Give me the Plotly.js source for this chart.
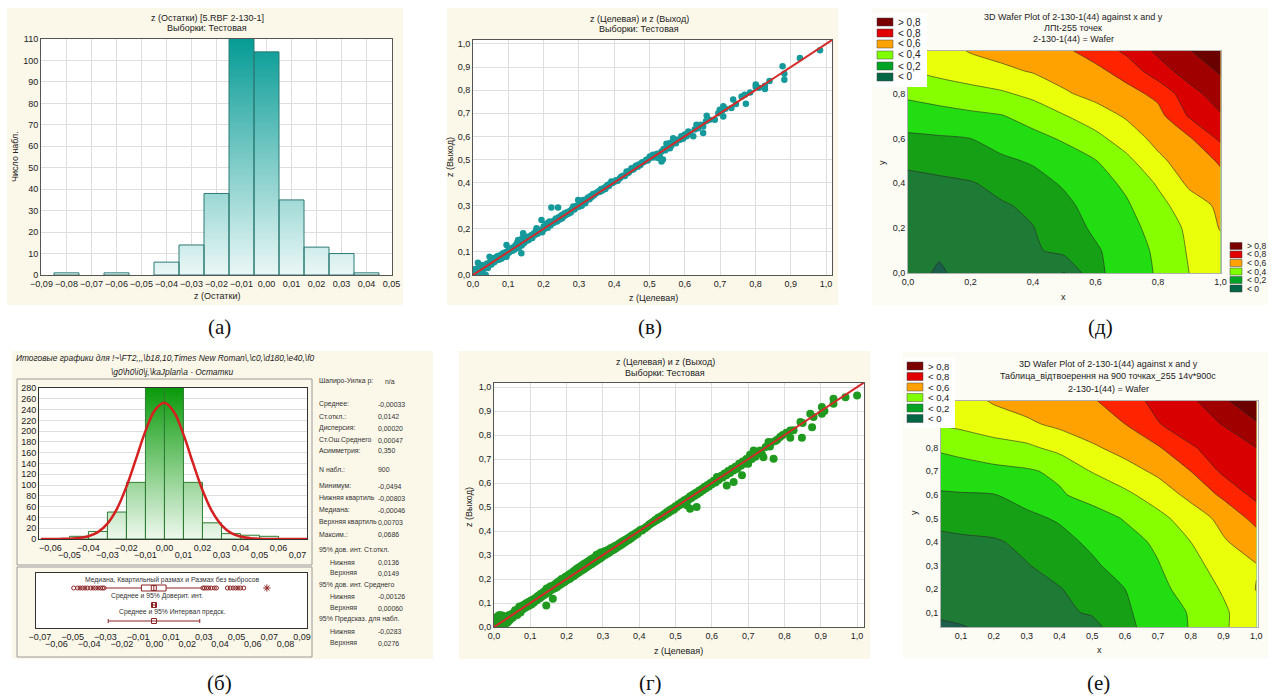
<!DOCTYPE html>
<html><head><meta charset="utf-8">
<script src="https://cdn.plot.ly/plotly-3.0.1.min.js"></script>
<style>html,body{margin:0;padding:0;background:#fff;}#chart{width:1272px;height:700px;}</style>
</head><body><div id="chart"></div>
<script>
const W = 1272, H = 700;
const SANS = 'Arial, "Liberation Sans", sans-serif';
const SERIF = '"Liberation Serif", "DejaVu Serif", serif';

// ---------- (а) residual histogram ----------
const residCenters = [-0.08, -0.06, -0.04, -0.03, -0.02, -0.01, 0.00, 0.01, 0.02, 0.03, 0.04];
const residCounts  = [1, 1, 6, 14, 38, 116, 104, 35, 13, 10, 1];
const residWidth = 0.01;
const residTicks = [-0.09,-0.08,-0.07,-0.06,-0.05,-0.04,-0.03,-0.02,-0.01,0,0.01,0.02,0.03,0.04,0.05];

// ---------- (б) summary histogram + normal fit ----------
const sumCenters = [-0.045,-0.035,-0.025,-0.015,-0.005,0.005,0.015,0.025,0.035,0.045,0.055];
const sumCounts  = [5, 14, 50, 105, 287, 282, 105, 30, 10, 7, 5];
const sumWidth = 0.01;
const normX = [-0.065,-0.06,-0.055,-0.05,-0.045,-0.04,-0.035,-0.03,-0.025,-0.02,-0.015,-0.01,-0.005,0,0.005,0.01,0.015,0.02,0.025,0.03,0.035,0.04,0.045,0.05,0.055,0.06,0.065,0.07,0.075];
const normY = [0,0,0.2,0.6,1.8,5.2,12.8,28.6,55.9,97,148,200,239,252.7,235.6,194,141,91,51.5,25.9,11.4,4.5,1.6,0.5,0.1,0,0,0,0];
const sumTicksEven = [-0.06,-0.04,-0.02,0,0.02,0.04,0.06];
const sumTicksOdd  = [-0.05,-0.03,-0.01,0.01,0.03,0.05,0.07];

// box-plot statistics
const boxQ1 = -0.00803, boxMedian = -0.00046, boxQ3 = 0.00703;
const boxWhiskers = [-0.0300, 0.0288];
const outliersLow  = [-0.0494,-0.047,-0.0455,-0.044,-0.0425,-0.041,-0.039,-0.0375,-0.036,-0.0345,-0.033,-0.0318,-0.0308];
const outliersHigh = [0.0295,0.0305,0.0318,0.033,0.0345,0.0365,0.0378,0.0445,0.0462,0.048,0.0495,0.051,0.0525,0.0545];
const extremes = [0.0686];
const meanVal = -0.00033;
const ciMean = [-0.00126, 0.00060];
const predInt = [-0.0283, 0.0276];
const boxTicksOdd  = [-0.07,-0.05,-0.03,-0.01,0.01,0.03,0.05,0.07,0.09];
const boxTicksEven = [-0.06,-0.04,-0.02,0,0.02,0.04,0.06,0.08];
const boxRowTexts = ['Медиана, Квартильный размах и Размах без выбросов','Среднее и 95% Доверит. инт.','Среднее и 95% Интервал предск.'];

const statLabels = ['Шапиро-Уилка р:','Среднее:','Ст.откл.:','Дисперсия:','Ст.Ош.Среднего','Асимметрия:','N набл.:','Минимум:','Нижняя квартиль','Медиана:','Верхняя квартиль','Максим.:','95% дов. инт. Ст.откл.','Нижняя','Верхняя','95% дов. инт. Среднего','Нижняя','Верхняя','95% Предсказ. для набл.','Нижняя','Верхняя'];
const statValues = ['n/a','-0,00033','0,0142','0,00020','0,00047','0,350','900','-0,0494','-0,00803','-0,00046','0,00703','0,0686','','0,0136','0,0149','','-0,00126','0,00060','','-0,0283','0,0276'];

// ---------- (в) target vs output, RBF test sample ----------
const pointsV = [
[0.005,0.025],[0.009,0.007],[0.012,0.018],[0.014,0.053],[0.014,0.029],[0.018,0.012],[0.020,0.035],[0.024,0.014],[0.026,0.040],[0.028,0.043],[0.030,0.025],[0.033,0.038],[0.036,0.000],[0.038,0.036],[0.040,0.050],[0.042,0.030],[0.045,0.042],[0.047,0.051],[0.047,0.079],[0.050,0.060],[0.052,0.045],[0.055,0.068],[0.057,0.072],[0.060,0.055],[0.062,0.075],[0.065,0.063],[0.068,0.080],[0.071,0.082],[0.073,0.066],[0.075,0.074],[0.078,0.085],[0.080,0.070],[0.083,0.088],[0.085,0.094],[0.088,0.078],[0.090,0.085],[0.093,0.100],[0.095,0.130],[0.095,0.079],[0.098,0.092],[0.100,0.105],[0.103,0.098],[0.106,0.112],[0.109,0.116],[0.112,0.105],[0.115,0.120],[0.118,0.110],[0.120,0.128],[0.123,0.123],[0.125,0.140],[0.128,0.152],[0.130,0.118],[0.132,0.135],[0.135,0.145],[0.137,0.094],[0.138,0.128],[0.140,0.160],[0.142,0.145],[0.142,0.181],[0.145,0.138],[0.148,0.155],
[0.152,0.148],[0.155,0.165],[0.158,0.152],[0.161,0.166],[0.165,0.172],[0.168,0.160],[0.172,0.180],[0.175,0.173],[0.178,0.190],[0.180,0.202],[0.183,0.178],[0.186,0.188],[0.190,0.195],[0.194,0.238],[0.196,0.185],[0.198,0.195],[0.200,0.210],[0.203,0.200],[0.206,0.222],[0.208,0.217],[0.212,0.205],[0.215,0.228],[0.217,0.231],[0.220,0.215],[0.222,0.292],[0.225,0.232],[0.228,0.225],[0.232,0.238],[0.235,0.245],[0.238,0.232],[0.241,0.292],[0.243,0.250],[0.246,0.240],[0.250,0.258],[0.253,0.246],[0.255,0.262],[0.258,0.255],[0.260,0.267],[0.263,0.260],[0.266,0.272],[0.270,0.265],[0.274,0.277],[0.277,0.270],[0.280,0.285],[0.284,0.296],[0.287,0.283],[0.290,0.290],[0.294,0.300],[0.298,0.325],[0.300,0.295],
[0.302,0.303],[0.306,0.312],[0.308,0.300],[0.312,0.325],[0.315,0.318],[0.318,0.310],[0.320,0.322],[0.323,0.330],[0.326,0.335],[0.330,0.328],[0.333,0.342],[0.336,0.338],[0.340,0.350],[0.343,0.345],[0.346,0.352],[0.350,0.356],[0.354,0.358],[0.357,0.364],[0.360,0.360],[0.363,0.372],[0.366,0.366],[0.369,0.373],[0.372,0.378],[0.375,0.372],[0.378,0.383],[0.381,0.390],[0.385,0.385],[0.388,0.395],[0.392,0.405],[0.395,0.398],[0.400,0.403],[0.405,0.410],[0.410,0.408],[0.416,0.419],[0.420,0.425],[0.425,0.430],[0.430,0.428],[0.435,0.448],[0.438,0.440],[0.442,0.445],[0.445,0.452],[0.449,0.462],[0.452,0.455],[0.456,0.460],[0.460,0.470],[0.463,0.474],[0.467,0.468],[0.470,0.478],[0.474,0.476],[0.477,0.484],[0.480,0.488],[0.485,0.490],[0.491,0.499],[0.495,0.495],[0.500,0.505],
[0.501,0.513],[0.505,0.510],[0.510,0.520],[0.513,0.508],[0.518,0.520],[0.522,0.525],[0.525,0.506],[0.529,0.513],[0.534,0.535],[0.534,0.491],[0.538,0.500],[0.540,0.545],[0.545,0.540],[0.548,0.568],[0.550,0.555],[0.553,0.550],[0.558,0.571],[0.558,0.549],[0.562,0.560],[0.567,0.592],[0.570,0.575],[0.575,0.570],[0.580,0.585],[0.586,0.585],[0.590,0.600],[0.595,0.590],[0.600,0.608],[0.605,0.600],[0.610,0.621],[0.615,0.610],[0.624,0.600],[0.628,0.630],[0.633,0.650],[0.638,0.635],[0.645,0.650],[0.652,0.643],[0.652,0.614],[0.660,0.665],[0.662,0.689],[0.670,0.672],[0.685,0.672],[0.695,0.700],[0.699,0.715],[0.705,0.710],[0.709,0.730],[0.709,0.686],[0.715,0.720],[0.732,0.723],[0.737,0.759],[0.745,0.740],[0.761,0.773],[0.770,0.780],[0.773,0.741],[0.785,0.790],[0.801,0.824],[0.801,0.814],[0.810,0.810],[0.827,0.819],[0.827,0.805],[0.840,0.840],[0.877,0.903],[0.882,0.871],[0.882,0.845],[0.926,0.939],[0.983,0.973]
];

// ---------- (г) target vs output, 900-point table ----------
const pointsG = [
[0.000,0.005],[0.003,0.012],[0.005,0.030],[0.006,0.000],[0.008,0.020],[0.010,0.045],[0.010,0.008],[0.012,0.035],[0.014,0.015],[0.015,0.050],[0.017,0.025],[0.018,0.040],[0.020,0.010],[0.021,0.030],[0.023,0.048],[0.025,0.020],[0.026,0.035],[0.028,0.005],[0.030,0.040],[0.031,0.025],[0.033,0.015],[0.035,0.045],[0.036,0.030],[0.038,0.020],[0.040,0.038],[0.042,0.050],[0.043,0.028],[0.045,0.042],[0.047,0.035],[0.050,0.055],[0.050,0.045],[0.052,0.040],[0.055,0.060],[0.056,0.048],[0.058,0.070],[0.060,0.055],[0.062,0.065],[0.064,0.050],[0.066,0.075],[0.068,0.062],[0.070,0.085],[0.071,0.070],[0.073,0.060],[0.075,0.080],[0.077,0.072],[0.079,0.090],[0.080,0.075],[0.082,0.082],[0.085,0.095],[0.086,0.080],[0.088,0.088],[0.090,0.100],[0.092,0.085],[0.094,0.095],[0.096,0.105],[0.098,0.090],[0.100,0.100],
[0.102,0.110],[0.104,0.095],[0.106,0.108],[0.108,0.115],[0.110,0.102],[0.112,0.118],[0.114,0.110],[0.116,0.122],[0.118,0.112],[0.120,0.128],[0.122,0.118],[0.124,0.130],[0.126,0.120],[0.128,0.138],[0.130,0.125],[0.132,0.140],[0.134,0.130],[0.136,0.145],[0.138,0.133],[0.140,0.150],[0.142,0.138],[0.144,0.090],[0.145,0.160],[0.146,0.142],[0.148,0.155],[0.150,0.145],[0.152,0.165],[0.154,0.150],[0.156,0.170],[0.158,0.155],[0.160,0.168],[0.162,0.118],[0.163,0.158],[0.165,0.175],[0.167,0.162],[0.170,0.180],[0.172,0.165],[0.174,0.185],[0.176,0.170],[0.178,0.190],[0.180,0.175],[0.182,0.193],[0.184,0.178],[0.186,0.200],[0.188,0.182],[0.190,0.198],[0.192,0.186],[0.194,0.205],[0.196,0.190],[0.198,0.210],[0.200,0.195],
[0.202,0.212],[0.204,0.198],[0.206,0.218],[0.208,0.200],[0.210,0.222],[0.212,0.205],[0.214,0.225],[0.216,0.210],[0.218,0.230],[0.220,0.213],[0.222,0.235],[0.224,0.218],[0.226,0.240],[0.228,0.222],[0.230,0.245],[0.232,0.226],[0.234,0.248],[0.236,0.230],[0.238,0.252],[0.240,0.234],[0.242,0.256],[0.244,0.238],[0.246,0.260],[0.248,0.242],[0.250,0.265],[0.252,0.246],[0.254,0.268],[0.256,0.250],[0.258,0.272],[0.260,0.254],[0.262,0.276],[0.264,0.258],[0.266,0.280],[0.268,0.262],[0.270,0.284],[0.272,0.266],[0.274,0.288],[0.276,0.270],[0.278,0.290],[0.280,0.274],[0.282,0.300],[0.284,0.278],[0.286,0.302],[0.288,0.282],[0.290,0.305],[0.292,0.286],[0.294,0.310],[0.296,0.290],[0.298,0.308],[0.300,0.295],
[0.303,0.315],[0.306,0.300],[0.309,0.318],[0.312,0.305],[0.315,0.322],[0.318,0.310],[0.321,0.328],[0.324,0.318],[0.327,0.332],[0.330,0.322],[0.333,0.338],[0.336,0.328],[0.339,0.342],[0.342,0.335],[0.345,0.348],[0.348,0.340],[0.351,0.354],[0.354,0.346],[0.357,0.360],[0.360,0.352],[0.363,0.365],[0.366,0.358],[0.369,0.370],[0.372,0.364],[0.375,0.376],[0.378,0.370],[0.381,0.382],[0.384,0.377],[0.387,0.388],[0.390,0.383],[0.393,0.394],[0.396,0.390],[0.400,0.400],
[0.404,0.405],[0.408,0.402],[0.412,0.410],[0.416,0.412],[0.420,0.418],[0.424,0.421],[0.428,0.428],[0.432,0.430],[0.436,0.437],[0.440,0.438],[0.444,0.446],[0.448,0.445],[0.452,0.455],[0.456,0.452],[0.460,0.462],[0.464,0.460],[0.468,0.470],[0.472,0.468],[0.476,0.479],[0.480,0.475],[0.484,0.488],[0.488,0.484],[0.492,0.495],[0.496,0.490],[0.500,0.503],
[0.504,0.500],[0.508,0.512],[0.512,0.508],[0.516,0.520],[0.520,0.515],[0.524,0.528],[0.528,0.522],[0.531,0.507],[0.532,0.535],[0.536,0.530],[0.540,0.493],[0.540,0.545],[0.544,0.538],[0.548,0.552],[0.552,0.546],[0.556,0.560],[0.558,0.500],[0.560,0.553],[0.564,0.568],[0.568,0.562],[0.572,0.575],[0.576,0.570],[0.580,0.585],[0.584,0.578],[0.588,0.592],[0.592,0.586],[0.596,0.600],[0.600,0.595],
[0.605,0.610],[0.610,0.602],[0.614,0.625],[0.618,0.612],[0.622,0.620],[0.626,0.630],[0.630,0.623],[0.635,0.640],[0.641,0.590],[0.640,0.632],[0.645,0.650],[0.650,0.642],[0.655,0.660],[0.660,0.604],[0.660,0.652],[0.665,0.668],[0.670,0.660],[0.675,0.680],[0.680,0.672],[0.683,0.632],[0.685,0.690],[0.690,0.680],[0.695,0.700],[0.700,0.680],
[0.705,0.718],[0.710,0.700],[0.715,0.736],[0.720,0.710],[0.725,0.730],[0.733,0.736],[0.738,0.720],[0.742,0.708],[0.748,0.750],[0.756,0.771],[0.760,0.752],[0.765,0.770],[0.770,0.701],[0.775,0.775],[0.780,0.780],[0.788,0.792],[0.795,0.800],
[0.805,0.810],[0.816,0.819],[0.816,0.789],[0.825,0.820],[0.844,0.854],[0.848,0.789],[0.850,0.850],[0.871,0.889],[0.876,0.833],[0.880,0.875],[0.903,0.917],[0.903,0.889],[0.910,0.900],[0.935,0.951],[0.935,0.930],[0.968,0.958],[1.000,0.965]
];
const idealLine = [0, 1.02];
const unitTicks = [0,0.1,0.2,0.3,0.4,0.5,0.6,0.7,0.8,0.9,1.0];

// ---------- (д), (е) wafer contour grids (rows: y = 0 .. 1) ----------
const waferX = [0,0.1,0.2,0.3,0.4,0.5,0.6,0.7,0.8,0.9,1.0];
const waferY = [0,0.1,0.2,0.3,0.4,0.5,0.6,0.7,0.8,0.9,1.0];
const waferZ_LPt = [
[0.030,-0.010,0.030,0.060,0.090,-0.005,0.180,0.244,0.310,0.400,0.460],
[0.030,0.010,0.020,0.050,0.085,0.129,0.188,0.250,0.318,0.410,0.470],
[0.035,0.040,0.050,0.065,0.097,0.156,0.216,0.268,0.336,0.420,0.505],
[0.045,0.060,0.075,0.090,0.118,0.179,0.235,0.289,0.367,0.455,0.517],
[0.060,0.075,0.092,0.131,0.169,0.210,0.262,0.318,0.411,0.517,0.572],
[0.128,0.147,0.166,0.185,0.209,0.252,0.296,0.375,0.478,0.550,0.610],
[0.183,0.190,0.200,0.236,0.271,0.312,0.371,0.450,0.529,0.588,0.720],
[0.248,0.264,0.280,0.295,0.339,0.394,0.453,0.511,0.567,0.710,0.790],
[0.320,0.342,0.364,0.387,0.425,0.488,0.530,0.567,0.625,0.764,0.850],
[0.390,0.426,0.453,0.479,0.507,0.541,0.576,0.638,0.756,0.843,0.910],
[0.400,0.465,0.512,0.538,0.564,0.590,0.646,0.730,0.826,0.900,0.970]
];
const waferZ_Table = [
[-0.040,-0.020,0.005,0.040,0.070,0.020,0.170,0.240,0.305,0.390,0.460],
[0.010,0.020,0.035,0.050,0.075,0.114,0.186,0.247,0.308,0.385,0.470],
[0.040,0.050,0.062,0.075,0.095,0.144,0.200,0.271,0.343,0.410,0.503],
[0.050,0.065,0.080,0.095,0.135,0.185,0.239,0.294,0.369,0.440,0.495],
[0.070,0.079,0.088,0.124,0.171,0.218,0.264,0.317,0.400,0.490,0.553],
[0.124,0.144,0.157,0.180,0.210,0.257,0.307,0.373,0.446,0.530,0.630],
[0.187,0.193,0.197,0.233,0.289,0.335,0.380,0.444,0.527,0.620,0.730],
[0.247,0.260,0.275,0.289,0.318,0.405,0.460,0.520,0.600,0.720,0.770],
[0.305,0.330,0.360,0.380,0.430,0.485,0.537,0.590,0.690,0.745,0.800],
[0.390,0.422,0.453,0.484,0.520,0.560,0.600,0.695,0.750,0.805,0.890],
[0.400,0.462,0.510,0.537,0.563,0.590,0.657,0.728,0.780,0.886,0.970]
];
const waferTicksD = [0,0.2,0.4,0.6,0.8,1.0];
const waferYTicksD = [0,0.2,0.4,0.6,0.8];
const waferTicksE = [0.1,0.2,0.3,0.4,0.5,0.6,0.7,0.8,0.9,1.0];
const waferYTicksE = [0.1,0.2,0.3,0.4,0.5,0.6,0.7,0.8];
const legendLabels = ['&gt; 0,8','&lt; 0,8','&lt; 0,6','&lt; 0,4','&lt; 0,2','&lt; 0'];
const legendColors = ['#7a0000','#e00000','#ffa200','#80ff00','#00a424','#006644'];
const bandColors = ['#1b5e4a','#1e7b36','#16a016','#22dd11','#86ff00','#eaff0a','#ffa200','#ff2400','#d80000','#a00000','#6a0000'];

// ================= helpers =================
const X = px => px / W;
const Y = py => 1 - py / H;
const TF = {family: SANS, size: 9, color: '#222'};
function ax(o) {
  return Object.assign({showgrid:false, zeroline:false, showline:true, linecolor:'#555', linewidth:1, mirror:true,
    ticks:'', tickangle:0, tickfont:TF, fixedrange:true, automargin:false}, o);
}
function barPolys(centers, counts, width) {
  const xs = [], ys = [];
  centers.forEach((c, i) => { const l = c - width/2, r = c + width/2;
    xs.push(l, l, r, r, l, null); ys.push(0, counts[i], counts[i], 0, 0, null); });
  return {xs, ys};
}
function txt(text, px, py, o) {
  const base = {text, x:X(px), y:Y(py), xref:'paper', yref:'paper', showarrow:false,
    xanchor:'center', yanchor:'middle', font:{family:SANS, size:9, color:'#222'}};
  return Object.assign(base, o || {});
}
function rect(x0, y0, x1, y1, fill, line, layer, lw) {
  return {type:'rect', xref:'paper', yref:'paper', x0:X(x0), x1:X(x1), y0:Y(y1), y1:Y(y0),
    fillcolor:fill, line: line ? {color:line, width: lw || 1} : {width:0}, layer: layer || 'below'};
}

// ================= traces =================
const traces = [];
const pa = barPolys(residCenters, residCounts, residWidth);
traces.push({type:'scatter', mode:'lines', x:pa.xs, y:pa.ys, xaxis:'x', yaxis:'y', fill:'toself',
  fillgradient:{type:'vertical', start:0, stop:110, colorscale:[[0,'#eaf7f6'],[1,'#069b95']]},
  line:{color:'#2b7a75', width:1}, hoverinfo:'skip'});

const pb = barPolys(sumCenters, sumCounts, sumWidth);
traces.push({type:'scatter', mode:'lines', x:pb.xs, y:pb.ys, xaxis:'x2', yaxis:'y2', fill:'toself',
  fillgradient:{type:'vertical', start:0, stop:280, colorscale:[[0,'#eef8ee'],[1,'#0a9a0a']]},
  line:{color:'#2e7d32', width:1}, hoverinfo:'skip'});
traces.push({type:'scatter', mode:'lines', x:normX, y:normY, xaxis:'x2', yaxis:'y2',
  line:{color:'#d42020', width:2.5, shape:'spline'}, hoverinfo:'skip'});
traces.push({type:'scatter', mode:'markers', x:[null], y:[null], xaxis:'x3', yaxis:'y2', hoverinfo:'skip'});

const BOXC = '#8b2323';
const ROW1 = 40, ROW2 = 23, ROW3 = 7;
traces.push({type:'box', orientation:'h', xaxis:'x4', yaxis:'y4', y:[ROW1], q1:[boxQ1], median:[boxMedian], q3:[boxQ3],
  lowerfence:[boxWhiskers[0]], upperfence:[boxWhiskers[1]], width:6, whiskerwidth:0, boxpoints:false,
  line:{color:BOXC, width:1}, fillcolor:'#ffffff', hoverinfo:'skip'});
traces.push({type:'scatter', mode:'markers', x:[boxMedian], y:[ROW1], xaxis:'x4', yaxis:'y4',
  marker:{symbol:'square-open', size:5, color:BOXC}, hoverinfo:'skip'});
const outl = outliersLow.concat(outliersHigh);
traces.push({type:'scatter', mode:'markers', x:outl, y:outl.map(() => ROW1), xaxis:'x4', yaxis:'y4',
  marker:{symbol:'circle-open', size:4, color:BOXC, line:{width:1}}, hoverinfo:'skip'});
traces.push({type:'scatter', mode:'markers', x:extremes, y:extremes.map(() => ROW1), xaxis:'x4', yaxis:'y4',
  marker:{symbol:'asterisk-open', size:6, color:BOXC, line:{width:1, color:BOXC}}, hoverinfo:'skip'});
traces.push({type:'scatter', mode:'markers', x:[meanVal], y:[ROW2], xaxis:'x4', yaxis:'y4',
  error_x:{type:'data', symmetric:false, array:[ciMean[1]-meanVal], arrayminus:[meanVal-ciMean[0]], color:BOXC, thickness:1, width:2},
  marker:{symbol:'square-open', size:5, color:BOXC}, hoverinfo:'skip'});
traces.push({type:'scatter', mode:'markers', x:[meanVal], y:[ROW3], xaxis:'x4', yaxis:'y4',
  error_x:{type:'data', symmetric:false, array:[predInt[1]-meanVal], arrayminus:[meanVal-predInt[0]], color:BOXC, thickness:1, width:2},
  marker:{symbol:'square-open', size:5, color:BOXC}, hoverinfo:'skip'});
traces.push({type:'scatter', mode:'markers', x:[null], y:[null], xaxis:'x5', yaxis:'y4', hoverinfo:'skip'});

traces.push({type:'scatter', mode:'markers', x:pointsV.map(p => p[0]), y:pointsV.map(p => p[1]), xaxis:'x6', yaxis:'y6',
  marker:{color:'#16999a', size:6.5}, hoverinfo:'skip'});
traces.push({type:'scatter', mode:'lines', x:idealLine, y:idealLine, xaxis:'x6', yaxis:'y6',
  line:{color:'#d42a2a', width:2}, hoverinfo:'skip'});
traces.push({type:'scatter', mode:'markers', x:pointsG.map(p => p[0]), y:pointsG.map(p => p[1]), xaxis:'x7', yaxis:'y7',
  marker:{color:'#1f9a1f', size:8}, hoverinfo:'skip'});
traces.push({type:'scatter', mode:'lines', x:idealLine, y:idealLine, xaxis:'x7', yaxis:'y7',
  line:{color:'#d42a2a', width:2}, hoverinfo:'skip'});

const cscale = bandColors.map((c, i) => [i / (bandColors.length - 1), c]);
function contourTrace(z, xa, ya) {
  return {type:'contour', x:waferX, y:waferY, z:z, xaxis:xa, yaxis:ya, autocontour:false,
    contours:{start:0, end:0.9, size:0.1, coloring:'fill', showlines:true},
    line:{color:'rgba(40,40,40,0.85)', width:0.7, smoothing:0.6},
    colorscale:cscale, showscale:false, hoverinfo:'skip'};
}
traces.push(contourTrace(waferZ_LPt, 'x8', 'y8'));
traces.push(contourTrace(waferZ_Table, 'x9', 'y9'));

// ================= layout =================
const GRID = '#dedede';
const layout = {
  width:W, height:H, margin:{l:0, r:0, t:0, b:0, pad:0},
  paper_bgcolor:'#ffffff', plot_bgcolor:'rgba(0,0,0,0)', showlegend:false, separators:', ',
  font:{family:SANS, size:9, color:'#222'},
  xaxis: ax({domain:[X(41), X(392)], range:[-0.0902, 0.0502], anchor:'y', tickvals:residTicks, tickformat:'.2f', showgrid:true, gridcolor:GRID}),
  yaxis: ax({domain:[Y(275), Y(39)], range:[0, 110], anchor:'x', dtick:10, showgrid:true, gridcolor:GRID}),
  xaxis2: ax({domain:[X(39), X(307)], range:[-0.066, 0.075], anchor:'y2', tickvals:sumTicksEven, tickformat:'.2f', linecolor:'#333'}),
  yaxis2: ax({domain:[Y(539), Y(388)], range:[0, 280], anchor:'x2', dtick:20, showgrid:true, gridcolor:GRID, linecolor:'#333'}),
  xaxis3: ax({overlaying:'x2', matches:'x2', anchor:'y2', tickvals:sumTicksOdd, tickformat:'.2f', showline:false, mirror:false, ticklabelstandoff:9}),
  xaxis4: ax({domain:[X(36), X(307)], range:[-0.0724, 0.0931], anchor:'y4', tickvals:boxTicksOdd, tickformat:'.2f', linecolor:'#333'}),
  yaxis4: ax({domain:[Y(628), Y(573)], range:[0, 55], anchor:'x4', showticklabels:false, linecolor:'#333'}),
  xaxis5: ax({overlaying:'x4', matches:'x4', anchor:'y4', tickvals:boxTicksEven, tickformat:'.2f', showline:false, mirror:false, ticklabelstandoff:9}),
  xaxis6: ax({domain:[X(473), X(832)], range:[0, 1.017], anchor:'y6', tickvals:unitTicks, tickformat:'.1f', showgrid:true, gridcolor:GRID}),
  yaxis6: ax({domain:[Y(275), Y(40)], range:[0, 1.017], anchor:'x6', tickvals:unitTicks, tickformat:'.1f', showgrid:true, gridcolor:GRID}),
  xaxis7: ax({domain:[X(494), X(864)], range:[0, 1.019], anchor:'y7', tickvals:unitTicks, tickformat:'.1f', showgrid:true, gridcolor:GRID}),
  yaxis7: ax({domain:[Y(627), Y(383)], range:[0, 1.017], anchor:'x7', tickvals:unitTicks, tickformat:'.1f', showgrid:true, gridcolor:GRID}),
  xaxis8: ax({domain:[X(908), X(1221)], range:[0, 1.002], anchor:'y8', tickvals:waferTicksD, tickformat:'.1f', linecolor:'#b0b0b0'}),
  yaxis8: ax({domain:[Y(273), Y(51)], range:[0, 0.99], anchor:'x8', tickvals:waferYTicksD, tickformat:'.1f', linecolor:'#b0b0b0'}),
  xaxis9: ax({domain:[X(941), X(1258)], range:[0.039, 1.005], anchor:'y9', tickvals:waferTicksE, tickformat:'.1f', linecolor:'#b0b0b0'}),
  yaxis9: ax({domain:[Y(627), Y(401)], range:[0.039, 0.998], anchor:'x9', tickvals:waferYTicksE, tickformat:'.1f', linecolor:'#b0b0b0'}),
};

// ---------- shapes ----------
const CREAM = '#fbf7e9', PALE = '#fcfbf4';
const shapes = [
  rect(7, 8, 403, 305, CREAM), rect(12, 351, 433, 659, CREAM), rect(447, 8, 838, 305, CREAM),
  rect(459, 351, 870, 659, CREAM), rect(872, 8, 1268, 305, PALE), rect(903, 352, 1268, 658, PALE),
  rect(17, 379, 312, 565, 'rgba(0,0,0,0)', '#9a9a9a'), rect(17, 567, 312, 657, 'rgba(0,0,0,0)', '#9a9a9a'),
  rect(41, 39, 392, 275, '#ffffff'), rect(39, 388, 307, 539, '#ffffff'), rect(36, 573, 307, 628, '#ffffff'),
  rect(473, 40, 832, 275, '#ffffff'), rect(494, 383, 864, 627, '#ffffff'),
  rect(873, 13, 927, 87, '#ffffff', null, 'above'), rect(905, 358, 955, 428, '#ffffff', null, 'above')
];
const legD1 = [22, 33, 44, 55, 66, 77], legD2 = [246, 254.5, 263, 271.5, 280, 288.5], legE = [366, 376.5, 387, 397.5, 408, 418.5];
legendColors.forEach((c, i) => {
  shapes.push(rect(877, legD1[i]-4, 893, legD1[i]+4, c, '#444', 'above', 0.5));
  shapes.push(rect(1230, legD2[i]-3.5, 1242, legD2[i]+3.5, c, '#444', 'above', 0.5));
  shapes.push(rect(907, legE[i]-4, 923, legE[i]+4, c, '#444', 'above', 0.5));
});
layout.shapes = shapes;

// ---------- annotations ----------
const ann = [];
// (а)
ann.push(txt('z (Остатки) [5.RBF 2-130-1]', 207, 18));
ann.push(txt('Выборки: Тестовая', 207, 28.5));
ann.push(txt('z (Остатки)', 217, 296));
ann.push(txt('Число набл.', 15, 157, {textangle:-90}));
// (б)
ann.push(txt('<i>Итоговые графики для !~\\FT2,,,\\b18,10,Times New Roman\\,\\c0,\\d180,\\e40,\\f0</i>', 165, 358, {font:{family:SANS, size:8.4, color:'#222'}}));
ann.push(txt('<i>\\g0\\h0\\i0\\j,\\kaJplan\\a - Остатки</i>', 172, 372, {font:{family:SANS, size:8.4, color:'#222'}}));
const boxTextPos = [[172, 580], [157, 596], [172, 612]];
boxRowTexts.forEach((t, i) => ann.push(txt(t, boxTextPos[i][0], boxTextPos[i][1], {font:{family:SANS, size:6.8, color:'#333'}})));
const statRowsY = [381, 404, 416, 428, 440, 451, 469, 486, 498, 510, 522, 534, 550, 562, 573, 585, 596, 608, 619, 631, 643];
const statIndent = [0,0,0,0,0,0,0,0,0,0,0,0,0,1,1,0,1,1,0,1,1];
const STF = {family:SANS, size:6.9, color:'#333'};
statLabels.forEach((t, i) => {
  ann.push(txt(t, statIndent[i] ? 328 : 317, statRowsY[i], {xanchor:'left', font:STF}));
  if (statValues[i]) ann.push(txt(statValues[i], i === 0 ? 383 : 376, statRowsY[i], {xanchor:'left', font:STF}));
});
// (в)
ann.push(txt('z (Целевая) и z (Выход)', 639, 19));
ann.push(txt('Выборки: Тестовая', 639, 29));
ann.push(txt('z (Целевая)', 653, 298));
ann.push(txt('z (Выход)', 450, 157, {textangle:-90}));
// (г)
ann.push(txt('z (Целевая) и z (Выход)', 665, 362));
ann.push(txt('Выборки: Тестовая', 665, 372.5));
ann.push(txt('z (Целевая)', 678, 651));
ann.push(txt('z (Выход)', 469, 507, {textangle:-90}));
// (д)
ann.push(txt('3D Wafer Plot of 2-130-1(44) against x and y', 1073, 16.5));
ann.push(txt('ЛПt-255 точек', 1073, 28));
ann.push(txt('2-130-1(44) = Wafer', 1073, 39.5));
ann.push(txt('x', 1063, 297));
ann.push(txt('y', 882, 163, {textangle:-90}));
// (е)
ann.push(txt('3D Wafer Plot of 2-130-1(44) against x and y', 1108, 364));
ann.push(txt('Таблица_відтвоерення на 900 точках_255 14v*900c', 1108, 376.5));
ann.push(txt('2-130-1(44) = Wafer', 1108, 389));
ann.push(txt('x', 1099, 650));
ann.push(txt('y', 914, 513, {textangle:-90}));
// legends
legendLabels.forEach((t, i) => {
  ann.push(txt(t, 896, legD1[i], {xanchor:'left', font:{family:SANS, size:10, color:'#222'}}));
  ann.push(txt(t, 1245, legD2[i], {xanchor:'left', font:{family:SANS, size:8.5, color:'#222'}}));
  ann.push(txt(t, 926, legE[i], {xanchor:'left', font:{family:SANS, size:9.5, color:'#222'}}));
});
// captions
const captions = [['(а)', 219, 327], ['(в)', 650, 327], ['(д)', 1100, 327], ['(б)', 219, 683], ['(г)', 650, 683], ['(е)', 1098, 683]];
captions.forEach(c => ann.push(txt(c[0], c[1], c[2], {font:{family:SERIF, size:21, color:'#111'}})));
layout.annotations = ann;

Plotly.newPlot('chart', traces, layout, {displayModeBar:false, staticPlot:true});
</script>
</body></html>
